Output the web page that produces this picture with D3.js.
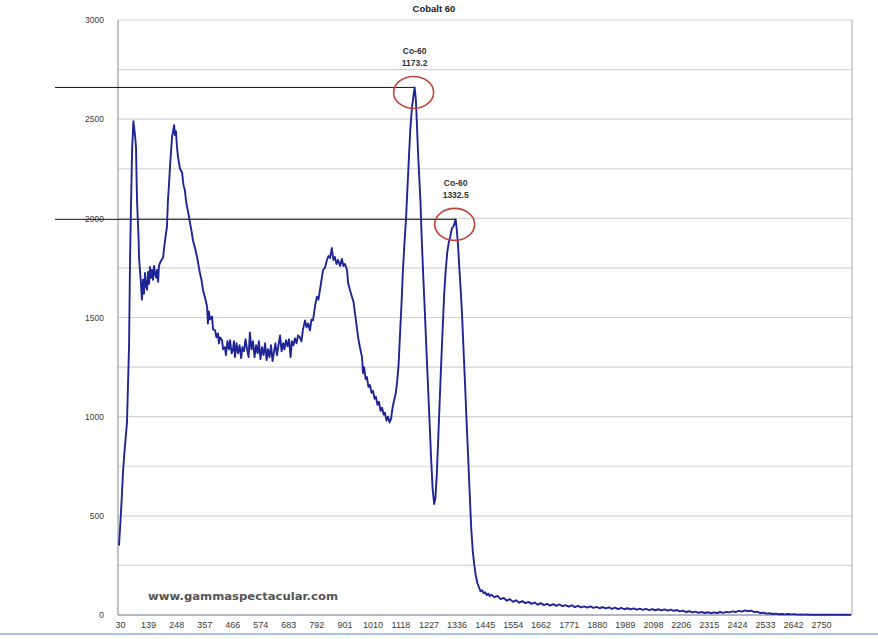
<!DOCTYPE html>
<html>
<head>
<meta charset="utf-8">
<script src="https://cdn.jsdelivr.net/npm/d3@7"></script>
<style>
  html, body { margin: 0; padding: 0; background: #fff; }
  svg { display: block; font-family: "Liberation Sans", Arial, sans-serif; }
</style>
</head>
<body>
<svg id="chart" width="878" height="639"></svg>
<script>
// Gamma spectrum of a Co-60 source: energy (keV) vs. counts
const chartTitle = "Cobalt 60";

const spectrum = [
  [26, 350], [34, 520], [42, 730], [49, 850], [57, 970], [65, 1350], [69, 1800], [73, 2090],
  [77, 2350], [82, 2490], [88, 2420], [92, 2360], [96, 2090], [102, 1900], [104, 1800],
  [111, 1675], [115, 1590], [119, 1690], [123, 1620], [127, 1725], [131, 1660], [135, 1640],
  [139, 1730], [143, 1670], [146, 1755], [150, 1700], [154, 1740], [158, 1690], [162, 1760],
  [166, 1725], [170, 1700], [174, 1740], [178, 1680], [181, 1760], [185, 1775], [191, 1790],
  [197, 1800], [201, 1850], [205, 1890], [208, 1920], [212, 1955], [216, 2090], [220, 2170],
  [224, 2260], [228, 2340], [232, 2410], [236, 2440], [240, 2470], [243, 2420], [247, 2440],
  [251, 2360], [255, 2310], [259, 2280], [263, 2250], [271, 2230], [276, 2170], [282, 2140],
  [286, 2090], [290, 2060], [296, 2020], [302, 1975], [307, 1940], [313, 1890], [321, 1850],
  [329, 1805], [335, 1760], [340, 1725], [346, 1690], [352, 1640], [360, 1600], [368, 1555],
  [371, 1470], [375, 1530], [379, 1490], [387, 1505], [391, 1440], [399, 1435], [404, 1400],
  [410, 1420], [414, 1370], [418, 1400], [426, 1385], [430, 1340], [437, 1350], [441, 1310],
  [447, 1380], [453, 1340], [457, 1385], [463, 1320], [468, 1335], [472, 1380], [476, 1300],
  [482, 1370], [488, 1320], [494, 1360], [500, 1295], [505, 1350], [511, 1330], [517, 1390],
  [523, 1340], [529, 1300], [534, 1425], [540, 1340], [546, 1380], [552, 1300], [558, 1360],
  [564, 1320], [569, 1380], [575, 1290], [581, 1350], [587, 1310], [593, 1370], [599, 1285],
  [604, 1340], [610, 1300], [616, 1360], [622, 1280], [628, 1330], [633, 1370], [639, 1310],
  [645, 1360], [651, 1410], [657, 1330], [663, 1370], [668, 1340], [674, 1385], [680, 1355],
  [686, 1390], [692, 1300], [697, 1380], [703, 1360], [709, 1395], [715, 1370], [721, 1410],
  [728, 1400], [734, 1380], [740, 1440], [748, 1485], [754, 1450], [760, 1470], [767, 1435],
  [773, 1490], [779, 1485], [787, 1560], [794, 1605], [800, 1590], [806, 1640], [812, 1690],
  [818, 1740], [825, 1750], [833, 1790], [839, 1810], [845, 1800], [852, 1850], [858, 1790],
  [864, 1805], [870, 1770], [876, 1790], [884, 1760], [891, 1795], [897, 1760], [903, 1770],
  [911, 1740], [915, 1675], [922, 1640], [930, 1605], [936, 1580], [942, 1520], [948, 1460],
  [954, 1400], [961, 1350], [969, 1300], [973, 1220], [977, 1250], [983, 1190], [988, 1200],
  [994, 1150], [1000, 1160], [1006, 1120], [1012, 1130], [1018, 1090], [1023, 1100],
  [1029, 1060], [1035, 1075], [1041, 1030], [1047, 1045], [1053, 1010], [1058, 1020],
  [1064, 980], [1070, 1000], [1076, 970], [1082, 990], [1087, 1040], [1093, 1080], [1099, 1110],
  [1105, 1170], [1111, 1260], [1116, 1400], [1122, 1560], [1128, 1740], [1134, 1880],
  [1140, 2000], [1146, 2170], [1152, 2330], [1157, 2460], [1163, 2560], [1168, 2610],
  [1173.2, 2660], [1178, 2600], [1182, 2480], [1186, 2345], [1191, 2215], [1196, 2080],
  [1201, 1890], [1207, 1700], [1213, 1525], [1219, 1340], [1225, 1160], [1231, 980],
  [1237, 795], [1243, 640], [1249, 560], [1254, 590], [1259, 700], [1264, 860], [1270, 1060],
  [1276, 1260], [1282, 1440], [1288, 1620], [1294, 1740], [1300, 1830], [1306, 1880],
  [1312, 1910], [1318, 1950], [1324, 1960], [1328, 1975], [1332.5, 1995], [1337, 1940],
  [1342, 1860], [1347, 1745], [1352, 1640], [1357, 1525], [1363, 1340], [1369, 1160],
  [1375, 975], [1381, 795], [1387, 610], [1393, 435], [1399, 320], [1405, 250], [1411, 195],
  [1417, 160], [1423, 140], [1429, 120], [1435, 125], [1441, 110], [1447, 115], [1453, 100],
  [1459, 108], [1465, 95], [1471, 102], [1483, 90], [1495, 96], [1507, 80], [1519, 86],
  [1531, 72], [1543, 80], [1555, 66], [1567, 74], [1579, 62], [1591, 70], [1603, 60],
  [1615, 66], [1627, 56], [1639, 63], [1651, 52], [1663, 60], [1675, 50], [1687, 56],
  [1699, 47], [1711, 55], [1723, 46], [1735, 53], [1747, 45], [1759, 50], [1771, 42],
  [1783, 49], [1795, 40], [1807, 46], [1819, 38], [1831, 44], [1843, 37], [1855, 43],
  [1867, 36], [1879, 41], [1891, 34], [1903, 40], [1915, 33], [1927, 38], [1939, 31],
  [1951, 37], [1963, 30], [1975, 36], [1987, 29], [1999, 34], [2011, 28], [2023, 33],
  [2035, 27], [2047, 32], [2059, 26], [2071, 31], [2083, 25], [2095, 30], [2107, 24],
  [2119, 29], [2131, 23], [2143, 28], [2155, 22], [2167, 27], [2179, 21], [2191, 25],
  [2203, 18], [2215, 22], [2227, 15], [2239, 19], [2251, 13], [2263, 17], [2275, 11],
  [2287, 15], [2299, 10], [2311, 14], [2323, 9], [2335, 13], [2347, 10], [2359, 15],
  [2371, 11], [2383, 16], [2395, 13], [2407, 18], [2419, 15], [2431, 21], [2443, 17],
  [2455, 23], [2467, 19], [2479, 22], [2491, 15], [2503, 17], [2515, 10], [2527, 12],
  [2539, 7], [2551, 9], [2563, 5], [2575, 7], [2587, 4], [2599, 5], [2611, 3], [2623, 5],
  [2635, 3], [2647, 4], [2659, 2], [2671, 3], [2683, 2], [2695, 3], [2707, 1], [2719, 2],
  [2731, 1], [2743, 2], [2755, 1], [2767, 2], [2779, 1], [2791, 2], [2803, 1], [2815, 1],
  [2827, 2], [2839, 1], [2851, 1], [2866, 1]
];

// Labelled photopeaks
const peakNames = ["Co-60", "Co-60"];
const peakEnergies = [1173.2, 1332.5];
const peakCounts = [2660, 1995];

const xTickValues = [30, 139, 248, 357, 466, 574, 683, 792, 901, 1010, 1118, 1227, 1336,
  1445, 1554, 1662, 1771, 1880, 1989, 2098, 2206, 2315, 2424, 2533, 2642, 2750];
const yTickValues = [0, 500, 1000, 1500, 2000, 2500, 3000];
const yGridValues = [250, 500, 750, 1000, 1250, 1500, 1750, 2000, 2250, 2500, 2750, 3000];

const watermark = "www.gammaspectacular.com";

// Layout
const plot = { left: 118, right: 852, top: 20, bottom: 615 };

const svg = d3.select("#chart");

const x = d3.scaleLinear().domain([22.2, 2870.5]).range([plot.left, plot.right]);
const y = d3.scaleLinear().domain([0, 3000]).range([plot.bottom, plot.top]);

// Horizontal gridlines
svg.append("g")
  .selectAll("line")
  .data(yGridValues)
  .join("line")
  .attr("x1", plot.left).attr("x2", plot.right)
  .attr("y1", d => y(d)).attr("y2", d => y(d))
  .attr("stroke", "#d4d4d4")
  .attr("stroke-width", 1.2);

// Plot frame (left, right, bottom)
svg.append("line")
  .attr("x1", plot.left).attr("x2", plot.left)
  .attr("y1", plot.top).attr("y2", plot.bottom)
  .attr("stroke", "#9a9a9a").attr("stroke-width", 1.2);
svg.append("line")
  .attr("x1", plot.right).attr("x2", plot.right)
  .attr("y1", plot.top).attr("y2", plot.bottom)
  .attr("stroke", "#b8b8b8").attr("stroke-width", 1.2);
svg.append("line")
  .attr("x1", plot.left).attr("x2", plot.right)
  .attr("y1", plot.bottom).attr("y2", plot.bottom)
  .attr("stroke", "#6a6a8a").attr("stroke-width", 1.2);

// Axes
const yAxis = svg.append("g")
  .attr("transform", `translate(${plot.left},0)`)
  .call(d3.axisLeft(y).tickValues(yTickValues).tickSize(0).tickPadding(14).tickFormat(d3.format("d")));
yAxis.select(".domain").remove();
yAxis.selectAll("text").attr("font-size", 8.5).attr("fill", "#3a3a3a");

const xAxis = svg.append("g")
  .attr("transform", `translate(0,${plot.bottom})`)
  .call(d3.axisBottom(x).tickValues(xTickValues).tickSize(0).tickPadding(7).tickFormat(d3.format("d")));
xAxis.select(".domain").remove();
xAxis.selectAll("text").attr("font-size", 9).attr("fill", "#3a3a3a");

// Reference lines from the left edge to each labelled peak
svg.append("g")
  .selectAll("line")
  .data(peakEnergies)
  .join("line")
  .attr("x1", 55)
  .attr("x2", d => x(d))
  .attr("y1", (d, i) => y(peakCounts[i]))
  .attr("y2", (d, i) => y(peakCounts[i]))
  .attr("stroke", "#111")
  .attr("stroke-width", 1);

// Spectrum trace
const line = d3.line()
  .x(d => x(d[0]))
  .y(d => y(d[1]));

svg.append("path")
  .datum(spectrum)
  .attr("d", line)
  .attr("fill", "none")
  .attr("stroke", "#1f2596")
  .attr("stroke-width", 1.9)
  .attr("stroke-linejoin", "round");

// Peak markers: ellipses and labels
const peaks = svg.append("g")
  .selectAll("g")
  .data(peakEnergies)
  .join("g")
  .attr("transform", (d, i) => `translate(${x(d)},${y(peakCounts[i])})`);

peaks.append("ellipse")
  .attr("cx", -1).attr("cy", 5)
  .attr("rx", 20).attr("ry", 16)
  .attr("fill", "none")
  .attr("stroke", "#c0433a")
  .attr("stroke-width", 1.6);

peaks.append("text")
  .attr("y", -33)
  .attr("text-anchor", "middle")
  .attr("font-size", 8.5)
  .attr("font-weight", "bold")
  .attr("fill", "#333")
  .text((d, i) => peakNames[i]);

peaks.append("text")
  .attr("y", -21)
  .attr("text-anchor", "middle")
  .attr("font-size", 8.5)
  .attr("font-weight", "bold")
  .attr("fill", "#333")
  .text(d => d.toFixed(1));

// Title
svg.append("text")
  .attr("x", 434).attr("y", 12)
  .attr("text-anchor", "middle")
  .attr("font-size", 9.5)
  .attr("font-weight", "bold")
  .attr("fill", "#222")
  .text(chartTitle);

// Site credit
svg.append("text")
  .attr("x", 148).attr("y", 600)
  .attr("font-family", "'DejaVu Sans', Verdana, sans-serif")
  .attr("font-size", 10.5)
  .attr("font-weight", "bold")
  .attr("fill", "#555")
  .attr("textLength", 190)
  .attr("lengthAdjust", "spacingAndGlyphs")
  .text(watermark);

// Thin blue rule along the bottom edge
svg.append("line")
  .attr("x1", 0).attr("x2", 878)
  .attr("y1", 634).attr("y2", 634)
  .attr("stroke", "#a9c6e6")
  .attr("stroke-width", 2);
</script>
</body>
</html>
